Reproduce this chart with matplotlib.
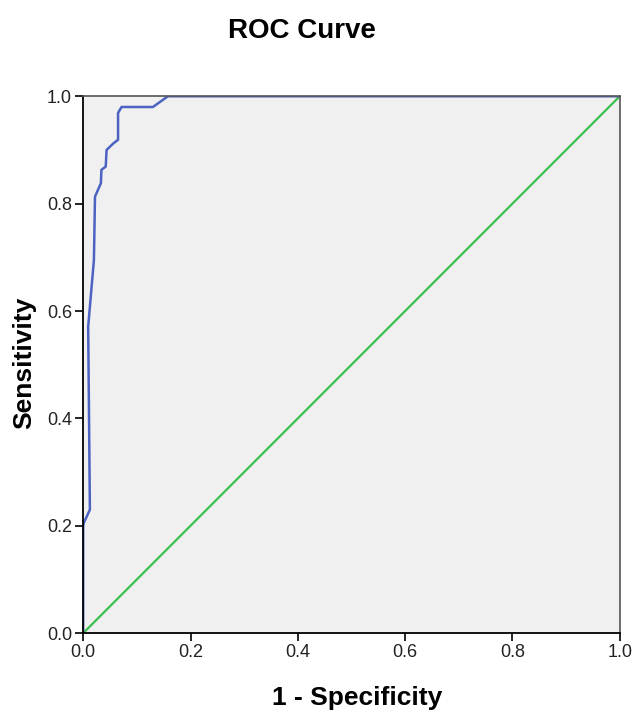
import matplotlib
matplotlib.use("Agg")
import matplotlib.pyplot as plt

plt.rcParams['font.family'] = ['Liberation Sans', 'DejaVu Sans']

# ROC points
fpr = [0.0, 0.0, 0.001, 0.0125, 0.0093, 0.020, 0.022, 0.033, 0.034, 0.042,
       0.0436, 0.056, 0.065, 0.065, 0.0715, 0.130, 0.158, 1.0]
tpr = [0.0, 0.20, 0.205, 0.23, 0.571, 0.695, 0.813, 0.838, 0.863, 0.869,
       0.900, 0.912, 0.919, 0.969, 0.980, 0.980, 1.0, 1.0]
ref_line = [0.0, 1.0]
ticks = [0.0, 0.2, 0.4, 0.6, 0.8, 1.0]

fig = plt.figure(figsize=(6.35, 7.13), dpi=100)
ax = fig.add_axes([0.131, 0.112, 0.845, 0.753])
ax.set_facecolor("#f0f0f0")

ax.plot(ref_line, ref_line, color="#3cbf4c", lw=1.6)
ax.plot(fpr, tpr, color="#4d63c2", lw=1.8)

ax.set_xlim(0, 1)
ax.set_ylim(0, 1)
ax.set_xticks(ticks)
ax.set_yticks(ticks)
ax.set_xticklabels([f"{t:.1f}" for t in ticks], fontsize=13, color="#222222")
ax.set_yticklabels([f"{t:.1f}" for t in ticks], fontsize=13, color="#222222")
ax.tick_params(direction="out", length=6, width=1.2, pad=2)

for s in ["left", "bottom"]:
    ax.spines[s].set_color("black")
    ax.spines[s].set_linewidth(1.3)
for s in ["top", "right"]:
    ax.spines[s].set_color("#555555")
    ax.spines[s].set_linewidth(1.2)

fig.text(0.562, 0.021, "1 - Specificity", ha="center", va="center",
         fontsize=19, fontweight="bold")
fig.text(0.038, 0.491, "Sensitivity", ha="center", va="center", rotation=90,
         fontsize=19, fontweight="bold")
fig.text(0.475, 0.957, "ROC Curve", ha="center", va="center", fontsize=20, fontweight="bold")

fig.savefig("out.png", dpi=100)
